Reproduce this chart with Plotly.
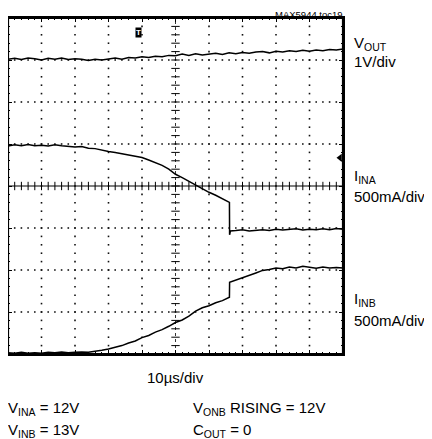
import numpy as np
import plotly.graph_objects as go

# ---------------- data (time in µs, amplitude in screen divisions) ----------------
t_vout = [0, 2, 4, 6, 8, 10, 12, 14, 16, 18, 20, 22, 24, 26, 28, 30, 32, 34, 36, 38, 40,
          42, 44, 46, 48, 50, 52, 54, 56, 58, 60, 62, 64, 66, 68, 70, 72, 74, 76, 78, 80,
          82, 84, 86, 88, 90, 92, 94, 96, 98, 100]
v_out = [7.02, 7.04, 7.01, 7.05, 7.03, 7.00, 7.04, 7.02, 7.05, 7.01, 7.03, 7.02, 6.99, 7.02,
         7.00, 7.03, 7.05, 7.02, 7.06, 7.05, 7.08, 7.06, 7.09, 7.08, 7.11, 7.10, 7.14, 7.11,
         7.15, 7.12, 7.14, 7.16, 7.13, 7.17, 7.15, 7.18, 7.16, 7.19, 7.20, 7.17, 7.21, 7.19,
         7.22, 7.20, 7.23, 7.21, 7.24, 7.22, 7.25, 7.24, 7.26]

t_ina = [0, 2, 4, 6, 8, 10, 12, 14, 16, 18, 20, 22, 24, 26, 28, 30, 32, 34, 36, 38, 40,
         42, 44, 46, 48, 50, 52, 54, 56, 58, 60, 62, 64, 66.1, 66.15, 66.4, 68, 70, 72, 74,
         76, 78, 80, 82, 84, 86, 88, 90, 92, 94, 96, 98, 100]
i_ina = [4.95, 4.98, 4.96, 4.99, 4.96, 4.97, 4.95, 4.98, 4.96, 4.95, 4.93, 4.94, 4.90, 4.89,
         4.85, 4.82, 4.80, 4.77, 4.75, 4.71, 4.68, 4.62, 4.55, 4.49, 4.40, 4.28, 4.20, 4.11,
         4.01, 3.93, 3.85, 3.78, 3.70, 3.61, 2.84, 2.93, 2.94, 2.96, 2.93, 2.95, 2.96, 2.94,
         2.97, 2.95, 2.96, 2.98, 2.95, 2.97, 2.96, 2.98, 2.96, 2.99, 2.97]

t_inb = [0, 2, 4, 6, 8, 10, 12, 14, 16, 18, 20, 22, 24, 26, 28, 30, 32, 34, 36, 38, 40,
         42, 44, 46, 48, 50, 52, 54, 56, 58, 60, 62, 64, 66.1, 66.15, 68, 70, 72, 74, 76,
         78, 80, 82, 84, 86, 88, 90, 92, 94, 96, 98, 100]
i_inb = [0.03, 0.02, 0.04, 0.02, 0.03, 0.02, 0.04, 0.03, 0.05, 0.03, 0.04, 0.05, 0.04, 0.06,
         0.09, 0.12, 0.16, 0.20, 0.26, 0.31, 0.39, 0.44, 0.52, 0.58, 0.66, 0.75, 0.81, 0.90,
         1.02, 1.10, 1.15, 1.22, 1.27, 1.35, 1.71, 1.76, 1.82, 1.86, 1.93, 1.99, 2.01, 2.05,
         2.03, 2.07, 2.05, 2.09, 2.06, 2.04, 2.07, 2.05, 2.06, 2.05]

# screen geometry (10 x 8 divisions, 10 µs/div)
N_XDIV, N_YDIV, US_PER_DIV = 10, 8, 10

# the page body has an 8px default margin; work in page pixels, convert to figure
OFF = 8
W, H = 432 - OFF, 439 - OFF
PL, PR, PT, PB = 8, 343, 18, 354          # plot frame in page pixels
ML, MR, MT, MB = PL - OFF, W - (PR - OFF), PT - OFF, H - (PB - OFF)
PW, PH = W - ML - MR, H - MT - MB

def px(x):
    return (x - OFF - ML) / PW

def py(y):
    return 1 - (y - OFF - MT) / PH

FONT = "Liberation Sans, Arial, sans-serif"
fig = go.Figure()

# graticule dots
xmax = N_XDIV * US_PER_DIV
minor_x = np.linspace(0, xmax, N_XDIV * 5 + 1)
minor_y = np.linspace(0, N_YDIV, N_YDIV * 5 + 1)
gx, gy = [], []
for k in range(1, N_XDIV):
    if k == N_XDIV // 2:
        continue
    gx += [k * US_PER_DIV] * len(minor_y)
    gy += list(minor_y)
for k in range(1, N_YDIV):
    if k == N_YDIV // 2:
        continue
    gx += list(minor_x)
    gy += [k] * len(minor_x)
fig.add_trace(go.Scatter(x=gx, y=gy, mode="markers",
                         marker=dict(symbol="square", size=1.6, color="#111"),
                         hoverinfo="skip", showlegend=False))

# center cross ticks
fig.add_trace(go.Scatter(x=list(minor_x), y=[N_YDIV / 2] * len(minor_x), mode="markers",
                         marker=dict(symbol="line-ns", size=6, line=dict(width=1, color="black")),
                         hoverinfo="skip", showlegend=False))
fig.add_trace(go.Scatter(x=[xmax / 2] * len(minor_y), y=list(minor_y), mode="markers",
                         marker=dict(symbol="line-ew", size=6, line=dict(width=1, color="black")),
                         hoverinfo="skip", showlegend=False))
fig.add_shape(type="line", x0=0, x1=xmax, y0=N_YDIV / 2, y1=N_YDIV / 2,
              line=dict(color="black", width=1.2))
fig.add_shape(type="line", x0=xmax / 2, x1=xmax / 2, y0=0, y1=N_YDIV,
              line=dict(color="black", width=0.8, dash="dot"))
# heavy screen frame
fig.add_shape(type="rect", xref="paper", yref="paper", x0=0, x1=1, y0=0, y1=1,
              line=dict(color="black", width=2.2))

# traces
for tx, ty in [(t_vout, v_out), (t_ina, i_ina), (t_inb, i_inb)]:
    fig.add_trace(go.Scatter(x=tx, y=ty, mode="lines",
                             line=dict(color="black", width=1.5),
                             hoverinfo="skip", showlegend=False))

# ground marker arrow on right
fig.add_trace(go.Scatter(x=[xmax - 0.9], y=[4.67], mode="markers",
                         marker=dict(symbol="triangle-left", size=7, color="black"),
                         cliponaxis=False, hoverinfo="skip", showlegend=False))

axis_common = dict(showgrid=False, zeroline=False, showticklabels=False,
                   showline=True, linewidth=2, linecolor="black", mirror="allticks",
                   ticks="inside", ticklen=4, tickwidth=1, tickcolor="black")
fig.update_xaxes(range=[0, xmax], dtick=US_PER_DIV,
                 minor=dict(ticks="inside", ticklen=2, dtick=US_PER_DIV / 5, tickcolor="black"),
                 **axis_common)
fig.update_yaxes(range=[0, N_YDIV], dtick=1,
                 minor=dict(ticks="inside", ticklen=2, dtick=0.2, tickcolor="black"),
                 **axis_common)

ann = []
def text(x, y, s, size=15, xanchor="left", yanchor="middle", bold=False):
    if bold:
        s = "<b>" + s + "</b>"
    ann.append(dict(x=px(x), y=py(y), xref="paper", yref="paper", text=s, showarrow=False,
                    xanchor=xanchor, yanchor=yanchor, align="left",
                    font=dict(family=FONT, size=size, color="black")))

text(352, 44, "V<sub>OUT</sub>")
text(352, 62, "1V/div")
text(352, 176, "I<sub>INA</sub>")
text(352, 196, "500mA/div")
text(352, 299, "I<sub>INB</sub>")
text(352, 320, "500mA/div")
text(175, 377, "10µs/div", xanchor="center")
text(6, 408, "V<sub>INA</sub> = 12V")
text(6, 430, "V<sub>INB</sub> = 13V")
text(191, 408, "V<sub>ONB</sub> RISING = 12V")
text(191, 430, "C<sub>OUT</sub> = 0")
ann.append(dict(x=px(344), y=py(OFF), xref="paper", yref="paper", text="MAX5944 toc19",
                showarrow=False, xanchor="right", yanchor="top", borderpad=0,
                font=dict(family=FONT, size=9.5, color="black")))

ann.append(dict(x=39, y=py(27), xref="x", yref="paper", text="<b>T</b>", showarrow=False,
                bgcolor="black", borderpad=0,
                font=dict(family=FONT, size=8, color="white")))
fig.update_layout(annotations=ann)

fig.update_layout(width=W, height=H, margin=dict(l=ML, r=MR, t=MT, b=MB),
                  plot_bgcolor="white", paper_bgcolor="white")

fig.write_html("out.html", config={"displayModeBar": False, "staticPlot": True})
